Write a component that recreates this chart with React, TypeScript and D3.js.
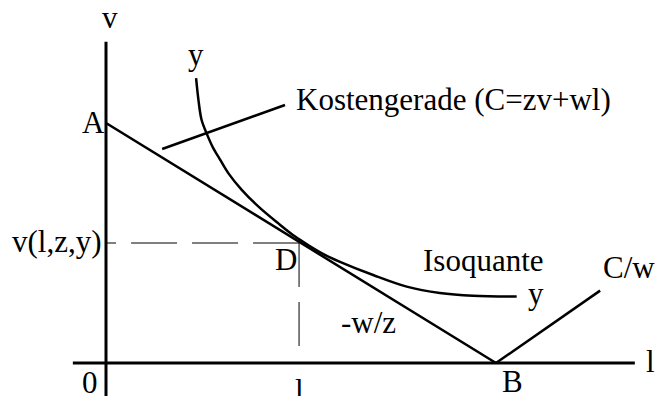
import React from "react";
import * as d3 from "d3";

// Data (economic units: l horizontal, v vertical)
const isoL = [2.31, 2.37, 2.45, 2.58, 2.75, 2.88, 3.14, 3.48, 3.91, 4.42, 4.85, 5.18, 5.6, 6.0, 6.85, 7.71, 8.56, 9.41, 10.53];
const isoV = [7.12, 6.58, 6.08, 5.74, 5.37, 5.16, 4.74, 4.33, 3.91, 3.49, 3.16, 2.95, 2.71, 2.53, 2.2, 1.91, 1.75, 1.68, 1.66];
const costLineL = [0, 10];
const costLineV = [6, 0];
const cwLineL = [10, 12.67];
const cwLineV = [0, 1.81];
const pointerL = [1.44, 4.59];
const pointerV = [5.35, 6.45];
const pointD = { l: 4.95, v: 3.0 };
const axisL = [-0.85, 13.56];
const axisV = [-0.85, 8.03];

const W = 655;
const H = 396;

export default function App() {
  const x = d3.scaleLinear().domain([0, 10]).range([106, 496]);
  const y = d3.scaleLinear().domain([0, 6]).range([363, 123]);

  const line = d3
    .line<[number, number]>()
    .x((d) => x(d[0]))
    .y((d) => y(d[1]));
  const curve = d3
    .line<[number, number]>()
    .x((d) => x(d[0]))
    .y((d) => y(d[1]))
    .curve(d3.curveCatmullRom.alpha(0.5));

  const isoPts = isoL.map((l, i) => [l, isoV[i]] as [number, number]);
  const costPts = costLineL.map((l, i) => [l, costLineV[i]] as [number, number]);
  const cwPts = cwLineL.map((l, i) => [l, cwLineV[i]] as [number, number]);
  const ptrPts = pointerL.map((l, i) => [l, pointerV[i]] as [number, number]);

  const font = "'Liberation Serif', 'Times New Roman', serif";
  const fs = 31;

  return (
    <svg
      width={W}
      height={H}
      style={{ position: "absolute", left: 0, top: 0, background: "#fff" }}
    >
      <rect width={W} height={H} fill="#fff" />
      {/* axes */}
      <line x1={x(0)} x2={x(0)} y1={y(axisV[0])} y2={y(axisV[1])} stroke="#000" strokeWidth={3} />
      <line x1={x(axisL[0])} x2={x(axisL[1])} y1={y(0)} y2={y(0)} stroke="#000" strokeWidth={3} />
      {/* dashed guides */}
      <line
        x1={x(pointD.l)}
        x2={x(0)}
        y1={y(pointD.v)}
        y2={y(pointD.v)}
        stroke="#000"
        strokeWidth={1}
        strokeDasharray="46,15"
      />
      <line
        x1={x(pointD.l)}
        x2={x(pointD.l)}
        y1={y(pointD.v)}
        y2={y(0.375)}
        stroke="#000"
        strokeWidth={1}
        strokeDasharray="44,15"
      />
      {/* cost line and C/w line */}
      <path d={line(costPts) || ""} fill="none" stroke="#000" strokeWidth={2.5} />
      <path d={line(cwPts) || ""} fill="none" stroke="#000" strokeWidth={2.5} />
      <path d={line(ptrPts) || ""} fill="none" stroke="#000" strokeWidth={2.5} />
      {/* isoquant */}
      <path d={curve(isoPts) || ""} fill="none" stroke="#000" strokeWidth={2.5} />

      <g fontFamily={font} fontSize={fs} fill="#000">
        <text x={102} y={28}>v</text>
        <text x={188} y={65}>y</text>
        <text x={296} y={110}>Kostengerade (C=zv+wl)</text>
        <text x={82} y={133}>A</text>
        <text x={12} y={252}>v(l,z,y)</text>
        <text x={275} y={270}>D</text>
        <text x={423} y={271}>Isoquante</text>
        <text x={603} y={278}>C/w</text>
        <text x={528} y={304}>y</text>
        <text x={341} y={333}>-w/z</text>
        <text x={646} y={372}>l</text>
        <text x={82} y={393}>0</text>
        <text x={295} y={401}>l</text>
        <text x={502} y={392}>B</text>
      </g>
    </svg>
  );
}
